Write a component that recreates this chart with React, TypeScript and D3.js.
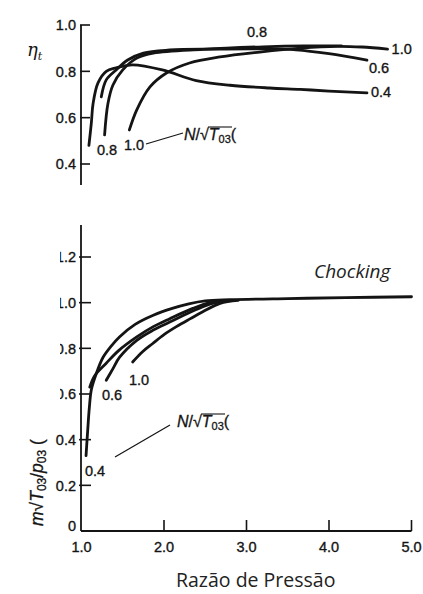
import React from "react";
import * as d3 from "d3";

type P = [number, number];

// Top chart: turbine efficiency vs pressure ratio, per N/sqrt(T03)
const effSpeeds = ["0.4", "0.6", "0.8", "1.0"];
const eff04: P[] = [[1.09,0.48],[1.12,0.58],[1.14,0.66],[1.20,0.75],[1.30,0.80],[1.42,0.815],[1.62,0.828],[1.98,0.806],[2.39,0.76],[2.80,0.74],[3.28,0.728],[3.65,0.722],[4.0,0.715],[4.46,0.707]];
const eff06: P[] = [[1.24,0.69],[1.30,0.763],[1.42,0.806],[1.56,0.849],[1.75,0.879],[2.07,0.892],[2.6,0.896],[3.2,0.897],[3.6,0.893],[4.0,0.876],[4.46,0.848]];
const eff08: P[] = [[1.28,0.526],[1.32,0.66],[1.38,0.74],[1.50,0.806],[1.67,0.857],[1.87,0.879],[2.47,0.895],[3.2,0.906],[3.7,0.91],[4.15,0.91]];
const eff10: P[] = [[1.58,0.547],[1.67,0.634],[1.83,0.733],[2.03,0.793],[2.31,0.836],[2.68,0.862],[3.16,0.883],[3.65,0.90],[4.1,0.908],[4.4,0.905],[4.71,0.896]];

// Bottom chart: mass flow parameter vs pressure ratio
const flow04: P[] = [[1.055,0.33],[1.075,0.44],[1.095,0.54],[1.12,0.62],[1.18,0.69],[1.26,0.76],[1.36,0.81],[1.46,0.85],[1.65,0.905],[1.87,0.945],[2.1,0.975],[2.3,0.995],[2.5,1.008],[2.8,1.013],[3.5,1.018],[4.2,1.022],[5.0,1.026]];
const flow06: P[] = [[1.10,0.63],[1.16,0.68],[1.3,0.735],[1.45,0.79],[1.67,0.85],[1.87,0.895],[2.07,0.93],[2.35,0.975],[2.56,1.0],[2.8,1.01]];
const flow08: P[] = [[1.30,0.66],[1.38,0.71],[1.46,0.76],[1.67,0.835],[1.87,0.88],[2.07,0.915],[2.39,0.97],[2.6,0.998],[2.85,1.01]];
const flow10: P[] = [[1.62,0.74],[1.74,0.785],[1.86,0.82],[2.0,0.86],[2.15,0.895],[2.32,0.93],[2.47,0.96],[2.68,0.997],[2.9,1.01]];

const xTicks = [1, 2, 3, 4, 5];
const effTicks = [0.4, 0.6, 0.8, 1.0];
const flowTicks = [0, 0.2, 0.4, 0.6, 0.8, 1.0, 1.2];
const xTitle = "Razão de Pressão";
const chokeLabel = "Chocking";

const W = 423, H = 594;
const axisX = 81;
const x = d3.scaleLinear().domain([1, 5]).range([81.5, 411.5]);
const yTop = d3.scaleLinear().domain([0.4, 1.0]).range([164, 25]);
const yBot = d3.scaleLinear().domain([0, 1.2]).range([531, 257]);

const font = "'Liberation Sans', Arial, sans-serif";
const ink = "#141414";
const lbl = { fontFamily: font, fontSize: 14.5, fill: ink, stroke: ink, strokeWidth: 0.35 } as const;

function NLabel({ x0, y0 }: { x0: number; y0: number }) {
  return (
    <g fontFamily={font} fontSize={16} fill={ink} stroke={ink} strokeWidth={0.3}>
      <text x={x0} y={y0}>
        <tspan fontStyle="italic">N</tspan>/√<tspan fontStyle="italic">T</tspan><tspan fontSize={11} dy={3}>03</tspan><tspan dy={-3}>(</tspan>
      </text>
      <line x1={x0 + 24} x2={x0 + 48} y1={y0 - 13} y2={y0 - 13} stroke={ink} strokeWidth={1.1} />
    </g>
  );
}

export default function App() {
  const lineTop = d3.line<P>().x(d => x(d[0])).y(d => yTop(d[1])).curve(d3.curveCatmullRom.alpha(0.5));
  const lineBot = d3.line<P>().x(d => x(d[0])).y(d => yBot(d[1])).curve(d3.curveCatmullRom.alpha(0.5));
  const topSeries = [eff04, eff06, eff08, eff10];
  const botSeries = [flow04, flow06, flow08, flow10];
  const fmt = d3.format(".1f");
  const last = (s: P[]) => s[s.length - 1];

  return (
    <svg width={W} height={H} style={{ position: "absolute", left: 0, top: 0, background: "#fff" }}>
      <rect width={W} height={H} fill="#fff" />
      {/* ---------- TOP CHART ---------- */}
      <line x1={axisX} x2={axisX} y1={yTop(1.0)} y2={185} stroke={ink} strokeWidth={1.8} />
      {effTicks.map(t => (
        <g key={"te" + t}>
          <line x1={axisX - 1} x2={axisX + 9} y1={yTop(t)} y2={yTop(t)} stroke={ink} strokeWidth={1.6} />
          <text x={76} y={yTop(t)} dy="0.36em" textAnchor="end" {...lbl}>{fmt(t)}</text>
        </g>
      ))}
      <text x={27} y={56} fontFamily="'DejaVu Serif', serif" fontStyle="italic" fontSize={18} fill={ink}>η<tspan fontSize={11} dy={4}>t</tspan></text>
      {topSeries.map((s, i) => (
        <path key={"tp" + i} d={lineTop(s) || ""} fill="none" stroke={ink} strokeWidth={2.8} strokeLinecap="round" strokeLinejoin="round" />
      ))}
      {/* end labels */}
      <text x={247} y={37} {...lbl}>{effSpeeds[2]}</text>
      <text x={x(last(eff10)[0]) + 4} y={yTop(last(eff10)[1]) + 5} {...lbl}>{effSpeeds[3]}</text>
      <text x={x(last(eff06)[0]) + 2} y={yTop(last(eff06)[1]) + 13} {...lbl}>{effSpeeds[1]}</text>
      <text x={x(last(eff04)[0]) + 4} y={yTop(last(eff04)[1]) + 4} {...lbl}>{effSpeeds[0]}</text>
      <text x={97} y={155} {...lbl}>{effSpeeds[2]}</text>
      <text x={124} y={150} {...lbl}>{effSpeeds[3]}</text>
      <line x1={146} y1={144} x2={183} y2={133} stroke={ink} strokeWidth={1.2} />
      <NLabel x0={184} y0={140} />
      <rect x={248} y={118} width={30} height={30} fill="#fff" />

      {/* ---------- BOTTOM CHART ---------- */}
      <line x1={axisX} x2={axisX} y1={225} y2={yBot(0)} stroke={ink} strokeWidth={1.8} />
      <line x1={axisX} x2={x(5)} y1={yBot(0)} y2={yBot(0)} stroke={ink} strokeWidth={1.8} />
      {flowTicks.map(t => (
        <g key={"tf" + t}>
          {t > 0 && <line x1={axisX - 2} x2={axisX + 10} y1={yBot(t)} y2={yBot(t)} stroke={ink} strokeWidth={1.6} />}
          <text x={76} y={yBot(t) - (t === 0 ? 5 : 0)} dy="0.36em" textAnchor="end" {...lbl}>{t === 0 ? "0" : fmt(t)}</text>
        </g>
      ))}
      {xTicks.map(t => (
        <g key={"tx" + t}>
          {t > 1 && <line x1={x(t)} x2={x(t)} y1={yBot(0)} y2={yBot(0) - 11} stroke={ink} strokeWidth={1.6} />}
          <text x={x(t)} y={552} textAnchor="middle" {...lbl}>{fmt(t)}</text>
        </g>
      ))}
      {botSeries.map((s, i) => (
        <path key={"bp" + i} d={lineBot(s) || ""} fill="none" stroke={ink} strokeWidth={2.8} strokeLinecap="round" strokeLinejoin="round" />
      ))}
      <text x={85} y={476} {...lbl}>{effSpeeds[0]}</text>
      <text x={102} y={400} {...lbl}>{effSpeeds[1]}</text>
      <text x={129} y={385} {...lbl}>{effSpeeds[3]}</text>
      <line x1={115} y1={457} x2={170} y2={425} stroke={ink} strokeWidth={1.2} />
      <NLabel x0={177} y0={427} />
      <rect x={231} y={405} width={40} height={30} fill="#fff" />
      {/* rotated y title */}
      <g transform={`translate(43,526) rotate(-90)`} fontFamily={font} fontSize={17.5} fill={ink} stroke={ink} strokeWidth={0.3}>
        <text x={0} y={0}>
          <tspan fontStyle="italic">m</tspan>√<tspan fontStyle="italic">T</tspan><tspan fontSize={12} dy={3}>03</tspan><tspan dy={-3}>/</tspan><tspan fontStyle="italic">p</tspan><tspan fontSize={12} dy={3}>03</tspan><tspan dy={-3}> (</tspan>
        </text>
      </g>
      {/* white overlay masking left labels (as in source image) */}
      <rect x={0} y={245} width={60} height={186} fill="#fff" />

      <text x={314} y={278} fontFamily="'Open Sans', sans-serif" fontStyle="italic" fontSize={19} fill="#222">{chokeLabel}</text>
      <text x={176} y={587} fontFamily="'Open Sans', sans-serif" fontSize={19.5} fill="#222">{xTitle}</text>
    </svg>
  );
}
